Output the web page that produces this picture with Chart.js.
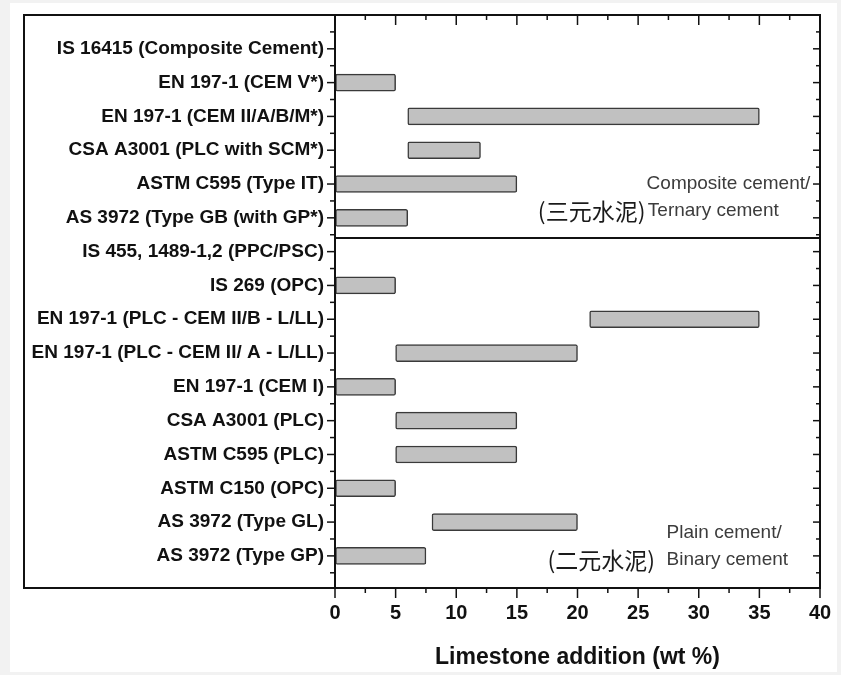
<!DOCTYPE html>
<html>
<head>
<meta charset="utf-8">
<script src="https://cdn.jsdelivr.net/npm/chart.js@4"></script>
<style>
  html, body { margin: 0; padding: 0; background: #fff; }
</style>
</head>
<body>
<canvas id="graficoCal" width="841" height="675"></canvas>
<script>
// categorias de norma (arriba -> abajo)
const categorias = [
  "IS 16415 (Composite Cement)",
  "EN 197-1 (CEM V*)",
  "EN 197-1 (CEM II/A/B/M*)",
  "CSA A3001 (PLC with SCM*)",
  "ASTM C595 (Type IT)",
  "AS 3972 (Type GB (with GP*)",
  "IS 455, 1489-1,2 (PPC/PSC)",
  "IS 269 (OPC)",
  "EN 197-1 (PLC - CEM II/B - L/LL)",
  "EN 197-1 (PLC - CEM II/ A - L/LL)",
  "EN 197-1 (CEM I)",
  "CSA A3001 (PLC)",
  "ASTM C595 (PLC)",
  "ASTM C150 (OPC)",
  "AS 3972 (Type GL)",
  "AS 3972 (Type GP)"
];
// rango de adicion de caliza (wt %), null = sin barra
const minimo = [null, 0, 6, 6, 0, 0, null, 0, 21, 5, 0, 5, 5, 0, 8, 0];
const maximo = [null, 5, 35, 12, 15, 6, null, 5, 35, 20, 5, 15, 15, 5, 20, 7.5];
const ticksX = [0, 5, 10, 15, 20, 25, 30, 35, 40];

const datos = [];
categorias.forEach((c, i) => {
  if (minimo[i] !== null) datos.push({ x: [minimo[i], maximo[i]], y: i });
});

// marco, ticks, linea divisoria y textos
const marco = {
  id: "marco",
  beforeDraw(chart) {
    const ctx = chart.ctx;
    ctx.save();
    ctx.fillStyle = "#f2f2f2";
    ctx.fillRect(0, 0, chart.width, chart.height);
    ctx.fillStyle = "#fff";
    ctx.fillRect(10, 3, chart.width - 14, chart.height - 6);
    ctx.restore();
  },
  afterDraw(chart) {
    const ctx = chart.ctx;
    const a = chart.chartArea;
    const x = chart.scales.x, y = chart.scales.y;
    const linea = (x1, y1, x2, y2) => { ctx.beginPath(); ctx.moveTo(x1, y1); ctx.lineTo(x2, y2); ctx.stroke(); };
    ctx.save();
    ctx.strokeStyle = "#111";
    ctx.lineWidth = 2;
    ctx.strokeRect(24, a.top, a.right - 24, a.bottom - a.top);
    linea(a.left, a.top, a.left, a.bottom);
    const yd = y.getPixelForValue(5.6);
    linea(a.left, yd, a.right, yd);

    ctx.lineWidth = 1.5;
    for (let v = -0.5; v <= 15.5; v += 0.5) {
      const py = y.getPixelForValue(v);
      const mayor = Number.isInteger(v);
      linea(a.left - (mayor ? 8 : 5), py, a.left, py);
      linea(a.right - (mayor ? 7 : 4), py, a.right, py);
    }
    for (let v = 0; v <= 40; v += 2.5) {
      const px = x.getPixelForValue(v);
      const mayor = v % 5 === 0;
      linea(px, a.top, px, a.top + (mayor ? 10 : 5));
      linea(px, a.bottom, px, a.bottom + (mayor ? 10 : 5));
    }

    ctx.fillStyle = "#3c3c3c";
    ctx.textBaseline = "middle";
    ctx.font = "19px 'Liberation Sans', Arial, sans-serif";
    ctx.textAlign = "right";
    ctx.fillText("Composite cement/", x.getPixelForValue(39.2), y.getPixelForValue(4));
    ctx.textAlign = "left";
    ctx.fillText("Ternary cement", x.getPixelForValue(25.8), y.getPixelForValue(4.8));
    ctx.fillText("Plain cement/", x.getPixelForValue(27.35), y.getPixelForValue(14.32));
    ctx.fillText("Binary cement", x.getPixelForValue(27.35), y.getPixelForValue(15.12));
    ctx.fillStyle = "#1a1a1a";
    ctx.font = "23px 'Noto Sans CJK SC', sans-serif";
    ctx.textAlign = "right";
    ctx.fillText("(三元水泥)", x.getPixelForValue(25.6), y.getPixelForValue(4.8));
    ctx.fillText("(二元水泥)", x.getPixelForValue(26.4), y.getPixelForValue(15.12));
    ctx.restore();
  }
};

const miCanvas = document.getElementById("graficoCal").getContext("2d");

const chart = new Chart(miCanvas, {
  type: "bar",
  data: {
    datasets: [
      {
        label: "Limestone addition",
        data: datos,
        backgroundColor: "#c1c1c1",
        borderColor: "#3a3a3a",
        borderWidth: 1.5,
        borderSkipped: false,
        borderRadius: 2,
        barThickness: 17
      }
    ]
  },
  options: {
    indexAxis: "y",
    responsive: false,
    animation: false,
    devicePixelRatio: 1,
    layout: { padding: { top: 15, right: 21, left: 0, bottom: 0 } },
    plugins: { legend: { display: false }, tooltip: { enabled: false } },
    scales: {
      x: {
        type: "linear",
        min: 0,
        max: 40,
        afterBuildTicks: (s) => { s.ticks = ticksX.map(v => ({ value: v })); },
        afterFit: (s) => { s.height = 87; s.paddingLeft = 0; s.paddingRight = 0; },
        grid: { display: true, drawOnChartArea: false, drawTicks: false, color: "transparent" },
        border: { display: false },
        ticks: { color: "#111", padding: 13, font: { family: "'Liberation Sans', Arial", size: 20, weight: "bold" } },
        title: {
          display: true,
          text: "Limestone addition (wt %)",
          color: "#111",
          padding: { top: 0, bottom: 4 },
          font: { family: "'Liberation Sans', Arial", size: 23, weight: "bold" }
        }
      },
      y: {
        type: "linear",
        reverse: true,
        offset: false,
        min: -1,
        max: 15.95,
        afterBuildTicks: (s) => { s.ticks = categorias.map((c, i) => ({ value: i })); },
        afterFit: (s) => { s.width = 335; s.paddingTop = 0; s.paddingBottom = 0; },
        grid: { display: true, drawOnChartArea: false, drawTicks: false, color: "transparent", offset: false },
        border: { display: false },
        ticks: {
          autoSkip: false,
          color: "#111",
          padding: 11,
          font: { family: "'Liberation Sans', Arial", size: 19, weight: "bold" },
          callback: (v) => categorias[v]
        }
      }
    }
  },
  plugins: [marco]
});
</script>
</body>
</html>
